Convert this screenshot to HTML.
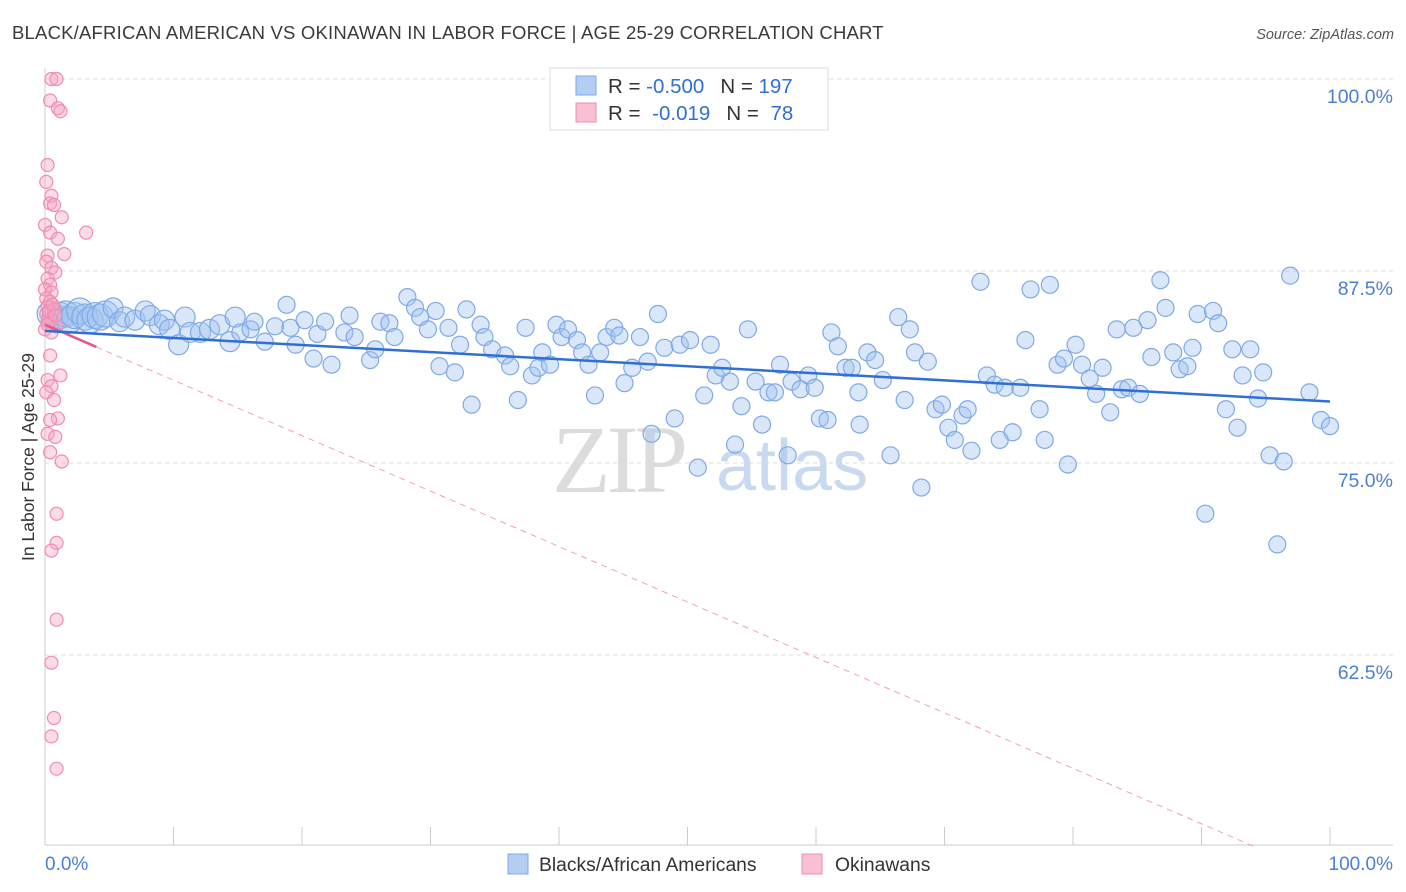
<!DOCTYPE html>
<html><head><meta charset="utf-8">
<style>
body{margin:0;background:#fff;font-family:"Liberation Sans",sans-serif;}
svg{display:block}
</style></head>
<body>
<svg id="chart" width="1406" height="892" viewBox="0 0 1406 892" xmlns="http://www.w3.org/2000/svg">
<text x="12" y="39" font-size="18.5" fill="#3a3a3a" letter-spacing="0.2">BLACK/AFRICAN AMERICAN VS OKINAWAN IN LABOR FORCE | AGE 25-29 CORRELATION CHART</text>
<text x="1394" y="39" font-size="14.5" fill="#555" font-style="italic" text-anchor="end">Source: ZipAtlas.com</text>
<g>
<text x="552" y="492" font-size="96" fill="#dcdcdc" font-family="Liberation Serif,serif" letter-spacing="-4">ZIP</text>
<text x="716" y="490" font-size="72" fill="#c9d9ef">atlas</text>
</g>
<g id="grid"></g>
<g id="axes"></g>
<g id="marks"></g>
<g>
<rect x="550" y="68" width="278" height="62" fill="#fff" stroke="#ddd"/>
<rect x="576" y="76" width="20" height="19" fill="#b4cdf2" stroke="#7fa9e8"/>
<rect x="576" y="103" width="20" height="19" fill="#f8c0d2" stroke="#f08cb0"/>
<text x="608" y="93" font-size="20.5" fill="#333">R = <tspan fill="#2f6fd6">-0.500</tspan><tspan dx="16">N = </tspan><tspan fill="#2f6fd6">197</tspan></text>
<text x="608" y="120" font-size="20.5" fill="#333">R = <tspan dx="6" fill="#2f6fd6">-0.019</tspan><tspan dx="16">N = </tspan><tspan dx="6" fill="#2f6fd6">78</tspan></text>
</g>
<g>
<rect x="508" y="854" width="20" height="20" fill="#b4cdf2" stroke="#7fa9e8"/>
<text x="539" y="871" font-size="19.3" fill="#333">Blacks/African Americans</text>
<rect x="802" y="854" width="20" height="20" fill="#f8c0d2" stroke="#f08cb0"/>
<text x="835" y="871" font-size="19.3" fill="#333">Okinawans</text>
</g>
<text transform="translate(34,457) rotate(-90)" font-size="17.5" fill="#333" text-anchor="middle">In Labor Force | Age 25-29</text>
</svg>
<script>
const yTicks=[100,87.5,75,62.5];
const yTickLabels=["100.0%","87.5%","75.0%","62.5%"];
const xTickValues=[0,10,20,30,40,50,60,70,80,90,100];
const xTickLabels=["0.0%","100.0%"];
const blueTrend=[83.6,-0.046];
const pinkTrend=[84.0,-0.361];
const blackPts=[[0.4,84.7],[0.8,84.5],[1.2,84.6],[1.6,84.7],[1.9,84.3],[2.3,84.6],[2.7,84.9],[3.1,84.5],[3.5,84.3],[3.9,84.6],[4.3,84.5],[4.7,84.7],[5.3,85.1],[5.8,84.2],[6.2,84.5],[7.0,84.3],[7.8,84.9],[8.2,84.6],[8.9,84.0],[9.3,84.3],[9.7,83.7],[10.4,82.7],[10.9,84.5],[11.3,83.5],[12.1,83.5],[12.8,83.7],[13.6,84.0],[14.4,82.9],[14.8,84.5],[15.2,83.5],[16.0,83.7],[16.3,84.2],[17.1,82.9],[17.9,83.9],[18.8,85.3],[19.1,83.8],[19.5,82.7],[20.2,84.3],[20.9,81.8],[21.2,83.4],[21.8,84.2],[22.3,81.4],[23.3,83.5],[23.7,84.6],[24.1,83.2],[25.3,81.7],[25.7,82.4],[26.1,84.2],[26.8,84.1],[27.2,83.2],[28.2,85.8],[28.8,85.1],[29.2,84.5],[29.8,83.7],[30.4,84.9],[30.7,81.3],[31.4,83.8],[31.9,80.9],[32.3,82.7],[32.8,85.0],[33.2,78.8],[33.9,84.0],[34.2,83.2],[34.8,82.4],[35.8,82.0],[36.2,81.3],[36.8,79.1],[37.4,83.8],[37.9,80.7],[38.4,81.2],[38.7,82.2],[39.3,81.4],[39.8,84.0],[40.2,83.2],[40.7,83.7],[41.4,83.0],[41.8,82.2],[42.3,81.4],[42.8,79.4],[43.2,82.2],[43.7,83.2],[44.3,83.8],[44.7,83.3],[45.1,80.2],[45.7,81.2],[46.3,83.2],[46.9,81.6],[47.2,76.9],[47.7,84.7],[48.2,82.5],[49.0,77.9],[49.4,82.7],[50.2,83.0],[50.8,74.7],[51.3,79.4],[51.8,82.7],[52.2,80.7],[52.7,81.2],[53.3,80.3],[53.7,76.2],[54.2,78.7],[54.7,83.7],[55.3,80.3],[55.8,77.5],[56.3,79.6],[56.8,79.6],[57.2,81.4],[57.8,75.5],[58.1,80.3],[58.8,79.8],[59.4,80.7],[59.9,79.9],[60.3,77.9],[60.9,77.8],[61.2,83.5],[61.7,82.6],[62.3,81.2],[62.8,81.2],[63.3,79.6],[63.4,77.5],[64.0,82.2],[64.6,81.7],[65.2,80.4],[65.8,75.5],[66.4,84.5],[66.9,79.1],[67.3,83.7],[67.7,82.2],[68.7,81.6],[68.2,73.4],[69.3,78.5],[69.8,78.8],[70.3,77.3],[70.8,76.5],[71.4,78.1],[71.8,78.5],[72.1,75.8],[72.8,86.8],[73.3,80.7],[73.9,80.1],[74.7,79.9],[74.3,76.5],[75.3,77.0],[75.9,79.9],[76.3,83.0],[76.7,86.3],[77.4,78.5],[77.8,76.5],[78.2,86.6],[78.8,81.4],[79.3,81.8],[79.6,74.9],[80.2,82.7],[80.7,81.4],[81.3,80.5],[81.8,79.5],[82.3,81.2],[82.9,78.3],[83.4,83.7],[83.8,79.8],[84.3,79.9],[84.7,83.8],[85.2,79.5],[85.8,84.3],[86.1,81.9],[86.8,86.9],[87.2,85.1],[87.8,82.2],[88.3,81.1],[88.9,81.3],[89.3,82.5],[89.7,84.7],[90.3,71.7],[90.9,84.9],[91.3,84.1],[91.9,78.5],[92.4,82.4],[92.8,77.3],[93.2,80.7],[93.8,82.4],[94.4,79.2],[94.8,80.9],[95.3,75.5],[95.9,69.7],[96.4,75.1],[96.9,87.2],[98.4,79.6],[99.3,77.8],[100,77.4]];
const okinawanPts=[[0.5,100],[0.9,100],[0.4,98.6],[1.0,98.1],[1.2,97.9],[0.2,94.4],[0.1,93.3],[0.5,92.4],[0.4,91.9],[0.7,91.8],[1.3,91.0],[0,90.5],[0.4,90.0],[1.0,89.6],[3.2,90.0],[1.5,88.6],[0.2,88.5],[0.1,88.1],[0.5,87.7],[0.8,87.4],[0.2,87.0],[0.4,86.6],[0,86.3],[0.5,86.1],[0.1,85.7],[0.4,85.5],[0.2,85.2],[0.7,85.0],[0.1,84.7],[0.5,84.4],[0.2,84.2],[0.9,83.9],[0,83.7],[0.5,83.5],[0.3,84.9],[0.6,85.3],[0.2,84.0],[0.8,84.6],[0.4,82.0],[1.2,80.7],[0.2,80.4],[0.5,80.0],[0.1,79.6],[0.7,79.1],[1.0,77.9],[0.4,77.8],[0.2,76.9],[0.8,76.7],[0.4,75.7],[1.3,75.1],[0.9,71.7],[0.9,69.8],[0.5,69.3],[0.9,64.8],[0.5,62.0],[0.7,58.4],[0.5,57.2],[0.9,55.1]];

const NS="http://www.w3.org/2000/svg";
const X0=45,X1=1330,Y100=79,PXPER=15.36;
function sx(v){return X0+(X1-X0)*v/100;}
function sy(v){return Y100+(100-v)*PXPER;}
function mk(tag,attrs,parent){const e=document.createElementNS(NS,tag);for(const k in attrs)e.setAttribute(k,attrs[k]);parent.appendChild(e);return e;}
const grid=document.getElementById('grid'),axes=document.getElementById('axes'),marks=document.getElementById('marks');
yTicks.forEach((t,i)=>{
  const l=mk('line',{x1:45,x2:1393,y1:sy(t),y2:sy(t),stroke:'#dcdcdc','stroke-dasharray':'4,4'},grid);
  
  
  const tx=mk('text',{x:1393,y:sy(t)+24,'font-size':19.5,fill:'#4a7fd4','text-anchor':'end'},axes);
  tx.textContent=yTickLabels[i];
  
  
});
const ya=mk('line',{x1:45,x2:45,y1:68,y2:845,stroke:'#ccc'},axes);


const xa=mk('line',{x1:45,x2:1393,y1:845,y2:845,stroke:'#ccc'},axes);


xTickValues.forEach(v=>{
  const t=mk('line',{x1:sx(v),x2:sx(v),y1:827,y2:845,stroke:'#ccc'},axes);
  
  
});
const xl0=mk('text',{x:45,y:870,'font-size':19,fill:'#4a7fd4'},axes);xl0.textContent=xTickLabels[0];


const xl1=mk('text',{x:1393,y:870,'font-size':19,fill:'#4a7fd4','text-anchor':'end'},axes);xl1.textContent=xTickLabels[1];



blackPts.forEach(p=>{
  const r=p[0]<5?13:p[0]<15?10:8.5;
  const c=mk('circle',{cx:sx(p[0]),cy:sy(p[1]),r:r,fill:'rgba(160,196,240,0.4)',stroke:'#7fa9e8','stroke-width':1.2},marks);
  
  
});
okinawanPts.forEach(p=>{
  const c=mk('circle',{cx:sx(p[0]),cy:sy(p[1]),r:6.5,fill:'rgba(246,165,195,0.4)',stroke:'#f08cb0','stroke-width':1.2},marks);
  
  
});
const pEndX=(50-pinkTrend[0])/pinkTrend[1];
const pd=mk('line',{x1:sx(4),y1:sy(pinkTrend[0]+pinkTrend[1]*4),x2:sx(pEndX),y2:sy(50),stroke:'#f0a0bc','stroke-width':1,'stroke-dasharray':'6,5'},marks);


const ps=mk('line',{x1:sx(0),y1:sy(pinkTrend[0]),x2:sx(4),y2:sy(pinkTrend[0]+pinkTrend[1]*4),stroke:'#e8558a','stroke-width':2.5},marks);


const bl=mk('line',{x1:sx(0),y1:sy(blueTrend[0]),x2:sx(100),y2:sy(blueTrend[0]+blueTrend[1]*100),stroke:'#2f6fd6','stroke-width':2.5},marks);


</script>
</body></html>
